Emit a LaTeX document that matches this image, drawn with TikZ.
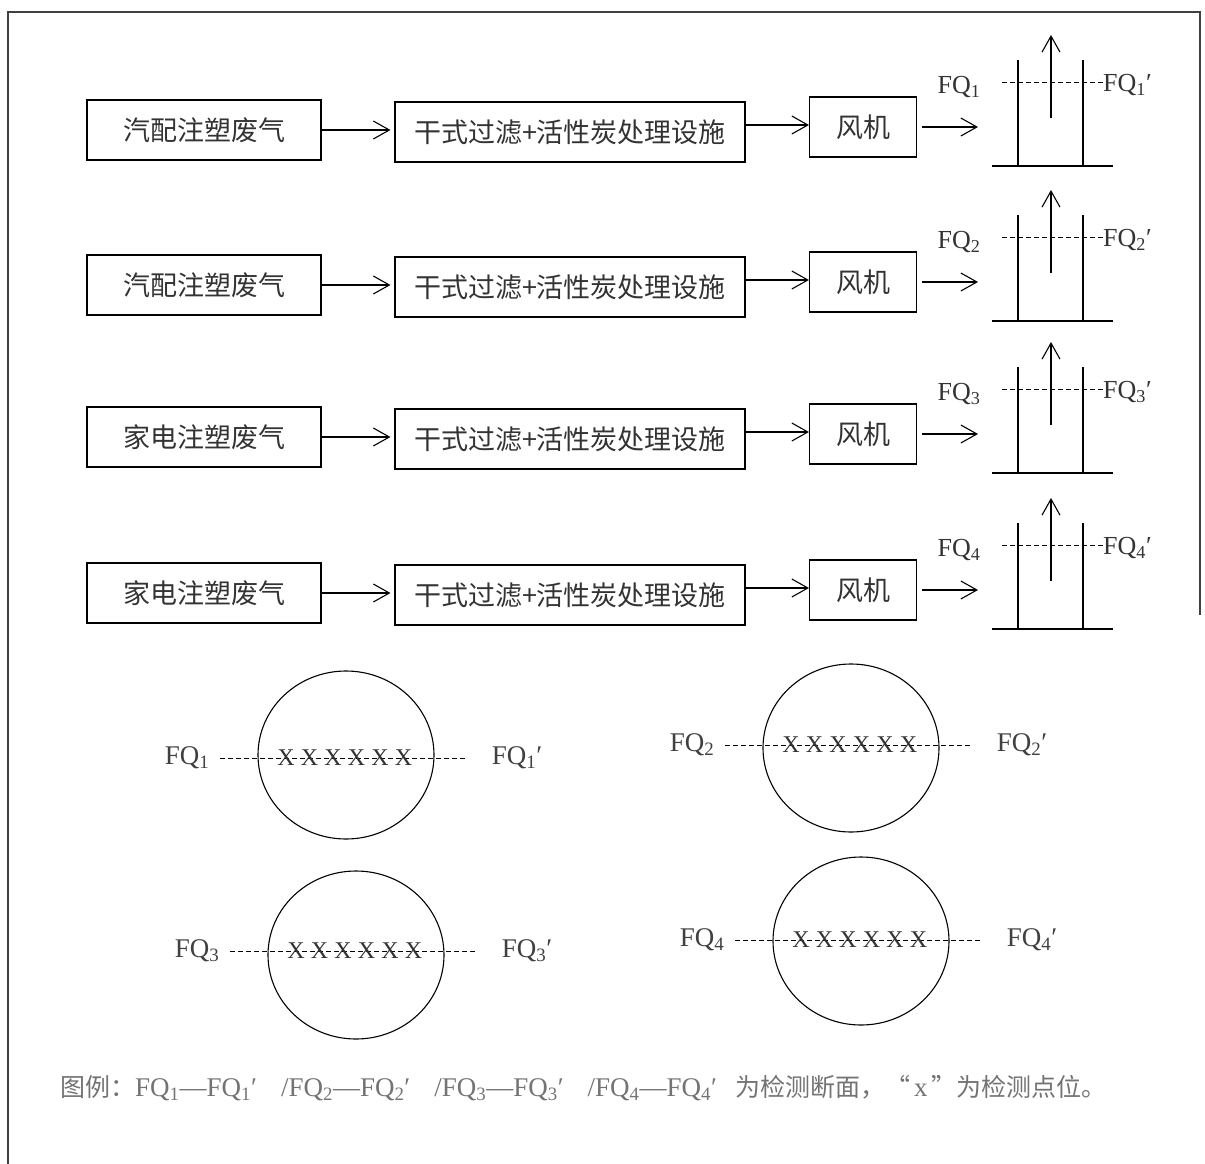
\documentclass[tikz,border=0pt]{standalone}
\usepackage{fontspec}
\setmainfont{Liberation Serif}
\newfontfamily\cjk{Noto Sans CJK SC}
\usetikzlibrary{arrows.meta, positioning}

\newcommand{\fqpair}[1]{FQ\textsubscript{#1}—FQ\textsubscript{#1}′\hspace{24pt}}

\begin{document}
\begin{tikzpicture}[
    x=1pt, y=-1pt,
    >={Straight Barb[length=16pt, width=18pt]},
    box/.style={draw, line width=1.1pt, minimum height=60pt, inner sep=0pt, font=\fontsize{27}{30}\selectfont\cjk, text=black!80},
    flow/.style={->, line width=1.1pt},
    wall/.style={line width=1.3pt},
    tag/.style={font=\fontsize{26}{30}\selectfont, text=black!80, inner sep=0pt},
    bigtag/.style={font=\fontsize{27}{30}\selectfont, text=black!75, inner sep=0pt},
    section/.style={dash pattern=on 5pt off 3pt, line width=0.9pt},
    probe/.style={font=\fontsize{24}{26}\selectfont, text=black!80, inner sep=0pt},
    ring/.style={line width=1.1pt},
    frame/.style={line width=1.3pt, black!75}
]
\useasboundingbox (0,0) rectangle (1205,1164);

% outer frame
\draw[frame] (8,1164) -- (8,12) -- (1200,12) -- (1200,615);

% treatment lines
\foreach \i/\c/\src in {1/130/汽配注塑废气, 2/285/汽配注塑废气, 3/437/家电注塑废气, 4/593/家电注塑废气} {
  \node[box, minimum width=234pt] (Source\i) at (204,\c) {\src};
  \node[box, minimum width=350pt] (Filter\i) at (570,\c+2) {干式过滤+活性炭处理设施};
  \node[box, minimum width=107pt] (Fan\i) at (863,\c-3) {风机};
  \coordinate (Level\i) at (0,\c-5);
  \coordinate (Stack\i) at (978,\c-3);
  \draw[flow, shorten >=4pt] (Source\i.east) -- (Filter\i.west |- Source\i.east);
  \draw[flow] (Filter\i.east |- Level\i) -- (Fan\i.west |- Level\i);
  \draw[flow] ([xshift=5pt]Fan\i.east) -- (Stack\i);
  % stack
  \draw[wall] (1018,\c-70) -- (1018,\c+36);
  \draw[wall] (1083,\c-70) -- (1083,\c+36);
  \draw[wall] (992,\c+36) -- (1113,\c+36);
  \draw[flow] (1051,\c-12) -- (1051,\c-95);
  \node[tag] (FqIn\i) at (959,\c-43) {FQ\textsubscript{\i}};
  \node[tag, anchor=west] (FqOut\i) at (1103,\c-45) {FQ\textsubscript{\i}′};
  \coordinate (Cut\i) at (1002,\c-48);
  \draw[section] (Cut\i) -- (FqOut\i.west |- Cut\i);
}

% sampling sections
\foreach \j/\x/\y/\d in {1/346/755/758, 2/851/748/745, 3/356/955/951, 4/861/941/940} {
  \draw[ring] (\x,\y) ellipse [x radius=88, y radius=84];
  \node[bigtag] (CutL\j) at (\x-159,\d) {FQ\textsubscript{\j}};
  \node[bigtag] (CutR\j) at (\x+171,\d) {FQ\textsubscript{\j}′};
  \draw[section, shorten <=11pt, shorten >=25pt] (CutL\j.east) -- (CutR\j.west);
  \foreach \k in {0,...,5}
    \node[probe] (Probe\j\k) at (\x-60+\k*23.5,\d) {X};
}

% legend
\node[anchor=west, inner sep=0pt, font=\fontsize{27}{30}\selectfont, text=black!55] (Legend) at (60,1088)
  {{\cjk\fontsize{25}{28}\selectfont 图例：}\fqpair{1}/\fqpair{2}/\fqpair{3}/FQ\textsubscript{4}—FQ\textsubscript{4}′\hspace{18pt}{\cjk\fontsize{25}{28}\selectfont 为检测断面，“}\hspace{4pt}x\hspace{4pt}{\cjk\fontsize{25}{28}\selectfont ”为检测点位。}};
\end{tikzpicture}
\end{document}
